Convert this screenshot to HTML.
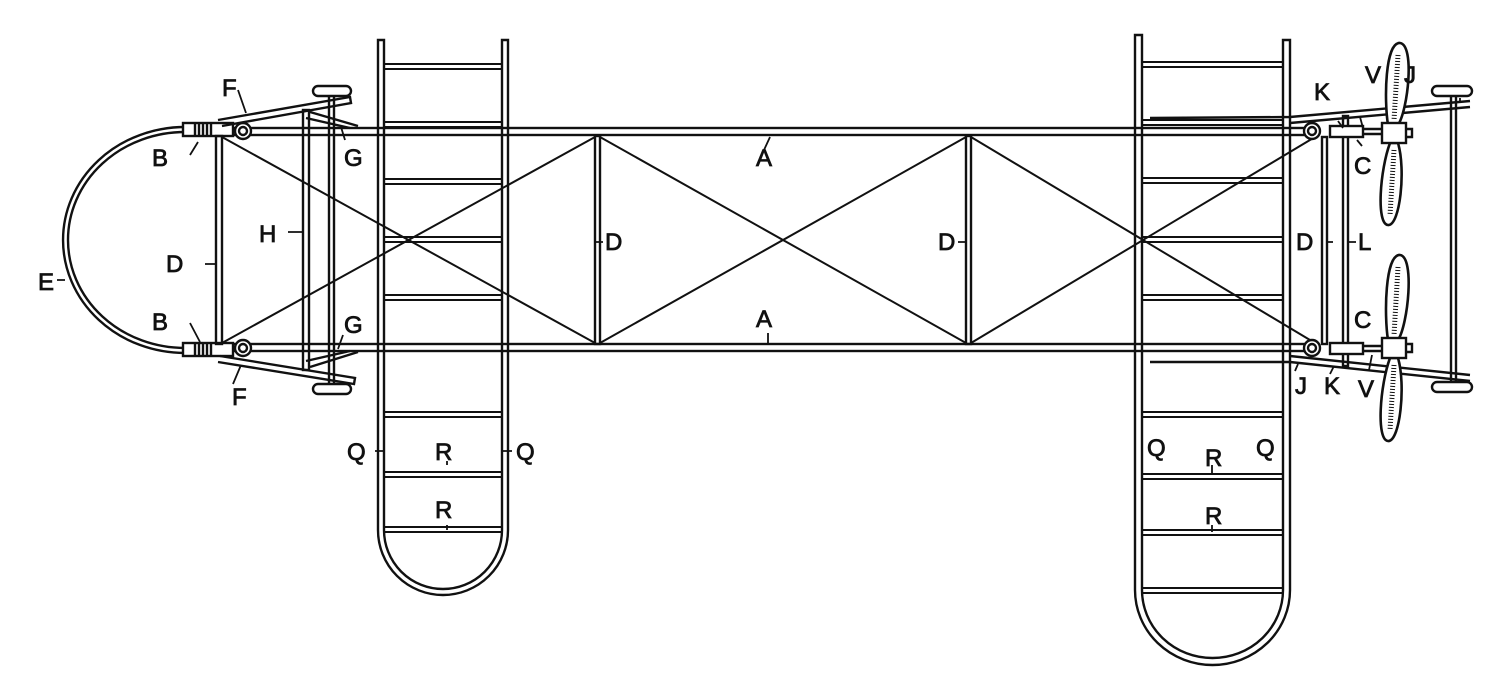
<!DOCTYPE html>
<html><head><meta charset="utf-8"><style>
html,body{margin:0;padding:0;background:#fff;}
svg{display:block}
text{font-family:"Liberation Sans",sans-serif;font-size:24px;fill:#111;stroke:#111;stroke-width:0.8}
</style></head><body>
<svg width="1500" height="689" viewBox="0 0 1500 689" xmlns="http://www.w3.org/2000/svg">
<g fill="none" stroke="#111" stroke-width="2.4">
<rect x="230" y="128" width="1085" height="7"/>
<rect x="230" y="344" width="1085" height="7"/>
<path d="M185 127 A 122 113 0 0 0 185 353"/>
<path d="M185 132 A 117 108 0 0 0 185 348"/>
<rect x="183" y="123" width="50" height="13" fill="#fff"/>
<rect x="183" y="343" width="50" height="13" fill="#fff"/>
<path d="M195 123v13M199 123v13M203 123v13M207 123v13M211 123v13M195 343v13M199 343v13M203 343v13M207 343v13M211 343v13"/>
<circle cx="243" cy="131" r="8" fill="#fff"/><circle cx="243" cy="131" r="4"/>
<circle cx="243" cy="348" r="8" fill="#fff"/><circle cx="243" cy="348" r="4"/>
<rect x="216" y="136" width="6" height="208"/>
<path d="M218 120 L350 97 L351 103 L222 126"/>
<path d="M220 356 L355 378 L354 384 L218 362"/>
<path d="M310 112 L358 126 M306 118 L350 128"/>
<path d="M310 367 L358 352 M306 361 L350 351"/>
<rect x="303" y="110" width="6" height="260"/>
<rect x="329" y="95" width="5" height="290"/>
<rect x="313" y="86" width="38" height="10" rx="5" fill="#fff"/>
<rect x="313" y="384" width="38" height="10" rx="5" fill="#fff"/>
<rect x="595" y="136" width="5" height="208"/>
<rect x="966" y="136" width="5" height="208"/>
<path d="M222 137 L595 343 M222 343 L595 137 M600 137 L966 343 M600 343 L966 137 M971 137 L1315 343 M971 343 L1315 137" stroke-width="2"/>
<path d="M378 530 V40 h6 V530 M502 530 V40 h6 V530"/>
<path d="M378 530 A 65 65 0 0 0 508 530 M384 530 A 59 59 0 0 0 502 530"/>
<g stroke-width="2">
<path d="M384 64h118M384 69h118 M384 122h118M384 127h118 M384 179h118M384 184h118 M384 237h118M384 242h118 M384 295h118M384 300h118 M384 412h118M384 417h118 M384 472h118M384 477h118 M384 527h118M384 532h118"/>
</g>
<path d="M1135 590 V35 h7 V590 M1283 590 V40 h7 V590"/>
<path d="M1135 590 A 77.5 75 0 0 0 1290 590 M1142 590 A 70.5 68 0 0 0 1283 590"/>
<g stroke-width="2">
<path d="M1142 62h141M1142 67h141 M1142 120h141M1142 125h141 M1142 178h141M1142 183h141 M1142 237h141M1142 242h141 M1142 295h141M1142 300h141 M1142 412h141M1142 417h141 M1142 474h141M1142 479h141 M1142 530h141M1142 535h141 M1142 588h141M1142 593h141"/>
</g>
<rect x="1322" y="137" width="5" height="207"/>
<rect x="1343" y="116" width="5" height="250"/>
<circle cx="1312" cy="131" r="8" fill="#fff"/><circle cx="1312" cy="131" r="4"/>
<circle cx="1312" cy="348" r="8" fill="#fff"/><circle cx="1312" cy="348" r="4"/>
<path d="M1150 118 L1290 117 L1470 101 M1290 123 L1470 107"/>
<path d="M1150 362 L1290 362 L1470 381 M1290 356 L1470 375"/>
<rect x="1330" y="126" width="33" height="11" fill="#fff"/>
<rect x="1330" y="343" width="33" height="11" fill="#fff"/>
<path d="M1363 129h22M1363 134h22M1363 346h22M1363 351h22"/>
<g stroke-width="2.6">
<path d="M1400 43 C1415 45 1408 110 1398 125 L1388 125 C1384 100 1385 42 1400 43 Z" fill="#fff"/>
<path d="M1398 143 C1406 170 1400 226 1388 225 C1376 224 1380 170 1390 143 Z" fill="#fff"/>
<path d="M1400 255 C1415 257 1408 325 1398 340 L1388 340 C1384 315 1385 254 1400 255 Z" fill="#fff"/>
<path d="M1398 358 C1406 385 1400 442 1388 441 C1376 440 1380 385 1390 358 Z" fill="#fff"/>
</g>
<path d="M1398 55 L1394 120 M1394 150 L1390 215 M1398 267 L1394 335 M1394 365 L1390 430" stroke-width="5" stroke-dasharray="1 2"/>
<rect x="1382" y="123" width="24" height="20" fill="#fff"/>
<path d="M1406 129 h6 v8 h-6"/>
<rect x="1382" y="338" width="24" height="20" fill="#fff"/>
<path d="M1406 344 h6 v8 h-6"/>
<rect x="1451" y="95" width="5" height="295"/>
<rect x="1432" y="86" width="40" height="10" rx="5" fill="#fff"/>
<rect x="1432" y="382" width="40" height="10" rx="5" fill="#fff"/>
<g stroke-width="1.8">
<path d="M238 90 L246 113 M190 155 L198 142 M190 323 L200 342 M233 384 L241 365 M345 140 L341 127 M343 335 L338 349"/>
<path d="M57 280 L65 280 M205 264 L216 264 M288 232 L303 232 M603 242 L595 242 M966 242 L958 242"/>
<path d="M770 137 L764 150 M768 333 L768 343"/>
<path d="M375 451 L385 451 M502 451 L512 451 M447 461 L447 465 M447 525 L447 530 M1212 465 L1212 475 M1212 525 L1212 532"/>
<path d="M1338 121 L1343 128 M1360 117 L1363 128 M1460 98 L1460 103 M1357 140 L1362 146"/>
<path d="M1327 242 L1333 242 M1348 242 L1356 242 M1295 371 L1298 364 M1330 374 L1334 366 M1369 370 L1372 355"/>
</g>
</g>
<g>
<text x="222" y="96">F</text>
<text x="152" y="166">B</text>
<text x="344" y="166">G</text>
<text x="259" y="242">H</text>
<text x="166" y="272">D</text>
<text x="38" y="290">E</text>
<text x="152" y="330">B</text>
<text x="344" y="333">G</text>
<text x="232" y="405">F</text>
<text x="605" y="250">D</text>
<text x="938" y="250">D</text>
<text x="756" y="166">A</text>
<text x="756" y="327">A</text>
<text x="347" y="460">Q</text>
<text x="435" y="460">R</text>
<text x="516" y="460">Q</text>
<text x="435" y="518">R</text>
<text x="1147" y="456">Q</text>
<text x="1205" y="466">R</text>
<text x="1256" y="456">Q</text>
<text x="1205" y="524">R</text>
<text x="1314" y="100">K</text>
<text x="1365" y="83">V</text>
<text x="1404" y="83">J</text>
<text x="1354" y="174">C</text>
<text x="1296" y="250">D</text>
<text x="1358" y="250">L</text>
<text x="1354" y="328">C</text>
<text x="1295" y="394">J</text>
<text x="1324" y="394">K</text>
<text x="1358" y="397">V</text>
</g>
</svg>
</body></html>
